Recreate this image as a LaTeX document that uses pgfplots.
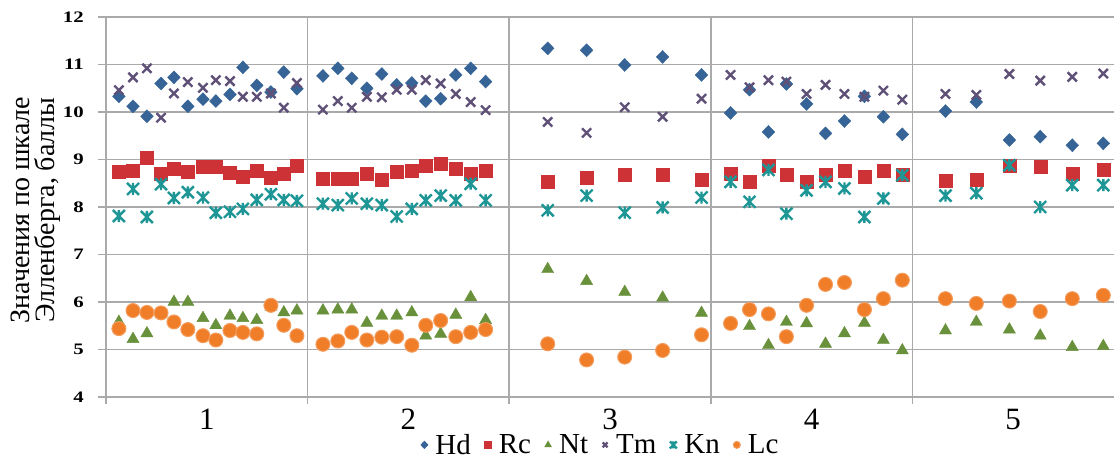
\documentclass[border=0pt]{standalone}
\usepackage{pgfplots}
\pgfplotsset{compat=1.18}
\usepackage{pgfplotstable}
\usepackage{fontspec}
\setmainfont{Liberation Serif}
\newfontfamily\tickfont[FakeStretch=1.3]{Liberation Serif}
\definecolor{cHd}{RGB}{55,100,150}
\definecolor{cRc}{RGB}{205,50,55}
\definecolor{cNt}{RGB}{105,145,60}
\definecolor{cTm}{RGB}{95,80,120}
\definecolor{cKn}{RGB}{30,150,150}
\definecolor{cLc}{RGB}{240,125,40}
\definecolor{gridc}{RGB}{170,170,170}
\pgfdeclareplotmark{kn}{%
  \pgfpathmoveto{\pgfqpoint{-\pgfplotmarksize}{\pgfplotmarksize}}%
  \pgfpathlineto{\pgfqpoint{\pgfplotmarksize}{-\pgfplotmarksize}}%
  \pgfpathmoveto{\pgfqpoint{\pgfplotmarksize}{\pgfplotmarksize}}%
  \pgfpathlineto{\pgfqpoint{-\pgfplotmarksize}{-\pgfplotmarksize}}%
  \pgfpathmoveto{\pgfqpoint{0pt}{\pgfplotmarksize}}%
  \pgfpathlineto{\pgfqpoint{0pt}{-\pgfplotmarksize}}%
  \pgfusepathqstroke}
\pgfplotstableread{
x Hd Rc Nt Tm Kn Lc
0.564 10.33 8.75 5.58 10.46 7.81 5.44
0.634 10.12 8.77 5.22 10.73 8.38 5.82
0.703 9.91 9.03 5.34 10.92 7.79 5.78
0.773 10.60 8.71 5.75 9.88 8.48 5.77
0.837 10.73 8.80 6.00 10.39 8.19 5.58
0.906 10.12 8.75 6.00 10.63 8.31 5.42
0.981 10.27 8.85 5.66 10.51 8.20 5.29
1.045 10.23 8.85 5.51 10.67 7.88 5.20
1.115 10.37 8.73 5.71 10.65 7.90 5.40
1.179 10.94 8.64 5.66 10.32 7.96 5.36
1.248 10.56 8.77 5.62 10.32 8.15 5.33
1.318 10.42 8.62 5.90 10.39 8.27 5.93
1.382 10.84 8.71 5.78 10.09 8.15 5.51
1.447 10.49 8.87 5.82 10.61 8.13 5.29
1.576 10.76 8.60 5.82 10.05 8.07 5.11
1.650 10.92 8.60 5.84 10.23 8.04 5.18
1.719 10.71 8.60 5.84 10.09 8.18 5.36
1.794 10.50 8.70 5.56 10.32 8.07 5.20
1.868 10.80 8.58 5.71 10.31 8.04 5.26
1.942 10.57 8.74 5.71 10.47 7.80 5.27
2.017 10.61 8.76 5.78 10.47 7.96 5.09
2.086 10.23 8.88 5.29 10.67 8.14 5.51
2.160 10.28 8.92 5.33 10.60 8.24 5.61
2.235 10.78 8.81 5.73 10.38 8.14 5.27
2.309 10.92 8.70 6.10 10.21 8.49 5.36
2.383 10.64 8.76 5.62 10.04 8.14 5.42
2.691 11.34 8.53 6.69 9.79 7.93 5.12
2.884 11.30 8.62 6.44 9.56 8.24 4.78
3.073 10.99 8.67 6.21 10.10 7.88 4.84
3.261 11.16 8.67 6.09 9.90 7.99 4.98
3.454 10.78 8.58 5.77 10.28 8.20 5.31
3.598 9.98 8.70 5.55 10.78 8.53 5.55
3.692 10.47 8.53 5.49 10.52 8.11 5.84
3.786 9.58 8.88 5.09 10.67 8.78 5.75
3.875 10.59 8.67 5.58 10.64 7.86 5.27
3.975 10.17 8.53 5.55 10.38 8.35 5.93
4.069 9.55 8.67 5.12 10.57 8.53 6.37
4.163 9.81 8.76 5.34 10.38 8.39 6.41
4.262 10.33 8.63 5.56 10.32 7.79 5.84
4.356 9.90 8.76 5.20 10.45 8.18 6.07
4.450 9.53 8.67 4.98 10.26 8.67 6.46
4.664 10.02 8.56 5.40 10.38 8.24 6.07
4.817 10.21 8.58 5.58 10.36 8.29 5.97
4.981 9.41 8.88 5.42 10.80 8.88 6.02
5.134 9.48 8.84 5.29 10.66 8.00 5.80
5.293 9.30 8.70 5.05 10.74 8.46 6.07
5.447 9.34 8.79 5.07 10.81 8.46 6.14
}\datatable
\begin{document}
\begin{tikzpicture}
\begin{axis}[
  at={(0,0)}, anchor=south west,
  scale only axis, width=1008pt, height=380pt,
  xmin=0.5, xmax=5.5, ymin=4, ymax=12,
  axis lines*=left,
  axis line style={draw=gridc, line width=1.5pt},
  xtick={1,2,3,4,5}, xticklabels={1,2,3,4,5},
  major x tick style={draw=none},
  minor xtick={0.5,1.5,2.5,3.5,4.5},
  xminorgrids,
  minor x tick style={draw=gridc, line width=1.5pt},
  minor x grid style={draw=gridc, line width=1.5pt},
  minor tick length=7pt,
  ytick={4,5,6,7,8,9,10,11,12},
  yticklabels={4,5,6,7,8,9,10,11,12},
  ymajorgrids,
  major grid style={draw=gridc, line width=1.5pt},
  ytick style={draw=gridc, line width=1.5pt},
  major tick length=8pt,
  tick align=outside,
  yticklabel style={font=\fontsize{16}{17}\tickfont\bfseries, inner sep=0pt, xshift=-14pt},
  xticklabel style={font=\fontsize{31}{33}\selectfont, inner sep=0pt, yshift=-4pt},
  clip=false,
  legend style={draw=none, fill=none, at={(0.49,-0.126)}, anchor=center,
    font=\fontsize{29}{30}\selectfont, legend columns=6,
    nodes={inner sep=2pt},
    /tikz/every even column/.append style={column sep=10pt}},
  legend image code/.code={\path[draw=none, fill=none] (0pt,-4pt) rectangle (14pt,4pt); \draw[#1, mark size=3.5pt, line width=0.9pt] plot coordinates {(5pt,0pt)};},
  every axis plot/.append style={only marks},
]
\addplot[mark=diamond*, mark size=6.5pt, color=cHd, mark options={xscale=1.3}] table[x=x, y=Hd] {\datatable};
\addlegendentry{Hd}
\addplot[mark=square*, mark size=6.5pt, color=cRc] table[x=x, y=Rc] {\datatable};
\addlegendentry{Rc}
\addplot[mark=triangle*, mark size=7pt, color=cNt] table[x=x, y=Nt] {\datatable};
\addlegendentry{Nt}
\addplot[mark=x, mark size=6.5pt, color=cTm, mark options={line width=2.4pt}] table[x=x, y=Tm] {\datatable};
\addlegendentry{Tm}
\addplot[mark=kn, mark size=6pt, color=cKn, mark options={line width=2.4pt}] table[x=x, y=Kn] {\datatable};
\addlegendentry{Kn}
\addplot[mark=*, mark size=7pt, color=cLc, mark options={draw=cLc!75!white, line width=1pt}] table[x=x, y=Lc] {\datatable};
\addlegendentry{Lc}
\end{axis}
\node[rotate=90, align=center, inner sep=0pt, font=\fontsize{28}{25}\selectfont] at (-70pt,187pt) {Значения по шкале\\Элленберга, баллы};
\pgfresetboundingbox
\path[use as bounding box] (-106pt,-69pt) rectangle (1008pt,397pt);
\end{tikzpicture}
\end{document}
